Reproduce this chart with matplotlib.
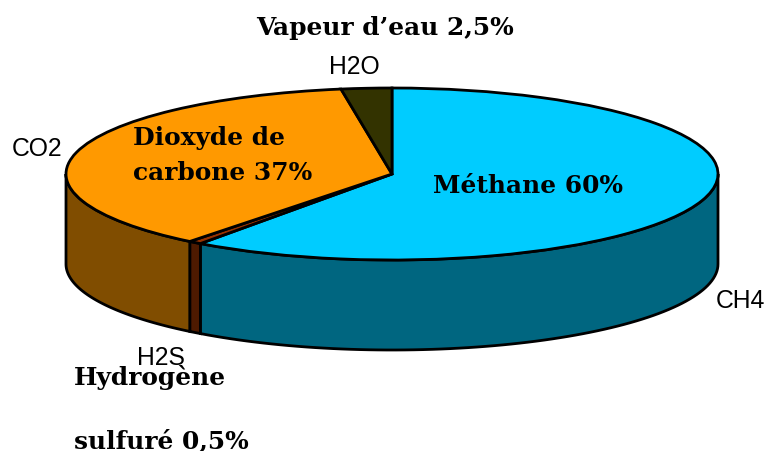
import numpy as np
import matplotlib
matplotlib.use("Agg")
import matplotlib.pyplot as plt

categories = ["CH4", "H2S", "CO2", "H2O"]
values = [60, 0.65, 36.85, 2.5]
top_colors = ["#00CCFF", "#993300", "#FF9900", "#333300"]
side_colors = ["#006680", "#4D1A00", "#804D00", "#1A1A00"]

W, H = 767, 452
fig = plt.figure(figsize=(W / 100, H / 100), dpi=100)
fig.patch.set_facecolor("white")

# ellipse in pixels
L, R, T, B = 66, 718, 89, 261
depth_px = 90
ax = fig.add_axes([L / W, 1 - B / H, (R - L) / W, (B - T) / H])

wedges, _ = ax.pie(values, colors=top_colors, startangle=90, counterclock=False, radius=1,
                   wedgeprops=dict(edgecolor="black", linewidth=2.0, zorder=5))
ax.set_aspect("auto")
ax.set_xlim(-1, 1)
ax.set_ylim(-1, 1)
ax.axis("off")
for w in wedges:
    w.set_clip_on(False)

depth = depth_px / ((B - T) / 2)
fractions = np.array(values) / sum(values)
edges = 90 - 360 * np.concatenate([[0], np.cumsum(fractions)])
for a0, a1, c in zip(edges[:-1], edges[1:], side_colors):
    # only the front half (angles between -180 and 0) is visible
    start, end = max(min(a0, 0), -180), max(min(a1, 0), -180)
    if start <= end:
        continue
    t = np.radians(np.linspace(start, end, 80))
    x = np.concatenate([np.cos(t), np.cos(t[::-1])])
    y = np.concatenate([np.sin(t), np.sin(t[::-1]) - depth])
    ax.fill(x, y, facecolor=c, edgecolor="black", linewidth=2.0, clip_on=False, zorder=1)

def label(px, py, s, **kw):
    fig.text(px / W, 1 - py / H, s, va="center", **kw)

sans = dict(family="Liberation Sans", fontsize=17.8, color="black")
serif = dict(family="DejaVu Serif", fontweight="bold", fontsize=17.9, color="black")
label(354, 67, "H2O", ha="center", **sans)
label(37, 149, "CO2", ha="center", **sans)
label(740, 301, "CH4", ha="center", **sans)
label(161, 358, "H2S", ha="center", **sans)
label(385, 28, "Vapeur d\u2019eau 2,5%", ha="center", **serif)
label(133, 138, "Dioxyde de", ha="left", **serif)
label(133, 173, "carbone 37%", ha="left", **serif)
label(528, 186, "M\u00e9thane 60%", ha="center", **serif)
label(74, 378, "Hydrog\u00e8ne", ha="left", **serif)
label(74, 441, "sulfur\u00e9 0,5%", ha="left", **serif)

fig.savefig("out.png", dpi=100)
